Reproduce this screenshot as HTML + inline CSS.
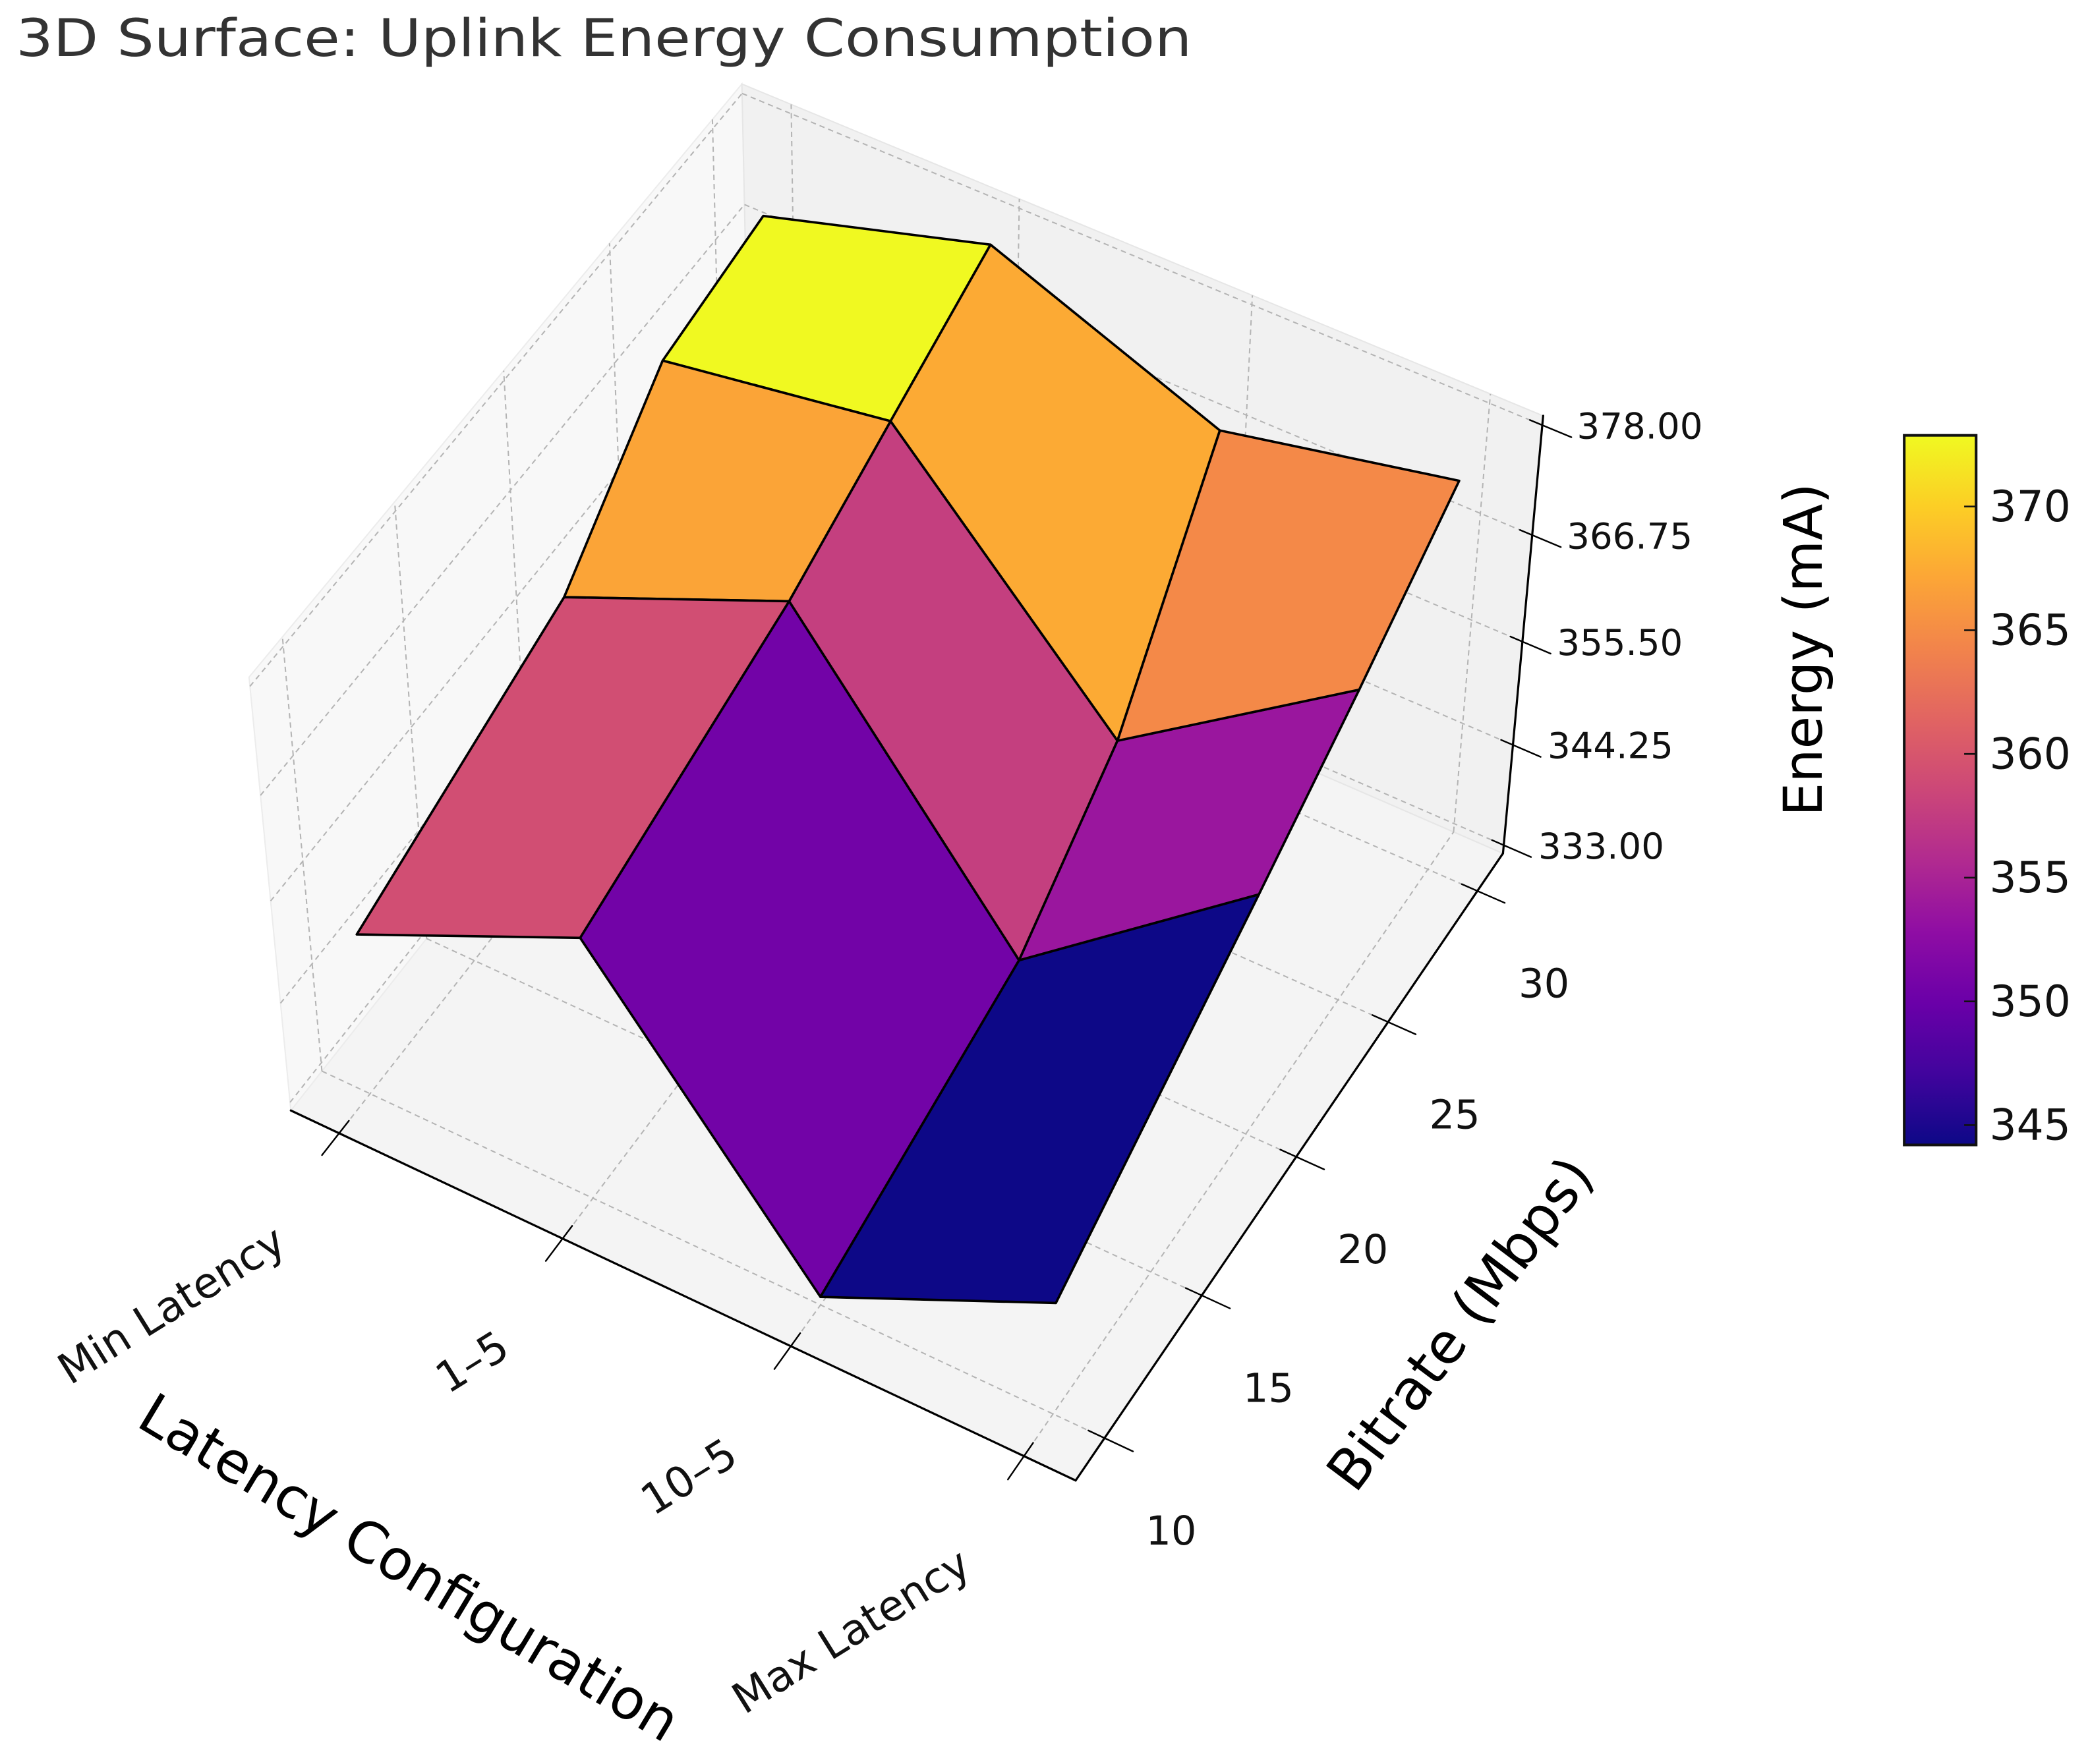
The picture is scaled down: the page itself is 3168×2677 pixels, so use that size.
<!DOCTYPE html>
<html><head><meta charset="utf-8"><title>3D Surface: Uplink Energy Consumption</title>
<style>html,body{margin:0;padding:0;background:#fff;}svg{display:block;}</style>
</head><body>
<svg id="chart" xmlns="http://www.w3.org/2000/svg" width="3168" height="2677" viewBox="0 0 1568 1325" font-family="'DejaVu Sans','Liberation Sans',sans-serif">
<rect width="1568" height="1325" fill="#fff"/>
<text x="12" y="42" font-size="39" fill="#333" textLength="883" lengthAdjust="spacingAndGlyphs">3D Surface: Uplink Energy Consumption</text>
<g id="panes"></g><g id="grid"></g><g id="axes"></g><g id="surface"></g><g id="labels"></g><g id="colorbar"></g>
</svg>
<script>
// ---- data ----
const latencyLabels = ["Min Latency", "1–5", "10–5", "Max Latency"];
const bitrates = [10, 20, 25, 30];
const bitrateTicks = [10, 15, 20, 25, 30];
const energyAt10 = [350.0, 361.1, 333.0, 344.9];
const energyAt20 = [357.8, 367.9, 340.1, 358.8];
const energyAt25 = [369.2, 373.0, 349.8, 366.1];
const energyAt30 = [371.3, 378.0, 369.0, 374.0];
const energy = [energyAt10, energyAt20, energyAt25, energyAt30];

const NS = "http://www.w3.org/2000/svg";
function mk(tag, attrs, parent) {
  const e = document.createElementNS(NS, tag);
  for (const k in attrs) e.setAttribute(k, attrs[k]);
  parent.appendChild(e);
  return e;
}
// ---- camera calibration (layout: normalized box [-1,1]^3 -> screen) ----
const calib = [
  [-1,-1,-1,219,835],[1,-1,-1,809,1113],[1,1,-1,1128,641],[1,1,1,1159,313],
  [-1,1,1,557,63],[-1,-1,1,187,508],
  [-0.8726,-1,-1,254.5,851],[-0.2909,-1,-1,423,930.5],[0.2909,-1,-1,592.5,1011],[0.8726,-1,-1,767,1093],
  [1,-0.8726,-1,830.8,1078],[1,-0.4363,-1,901.8,975.6],[1,0,-1,974.5,868.6],[1,0.4363,-1,1042,768],[1,0.8726,-1,1110,668]
];
const Arows = [], brhs = [];
calib.forEach(c => {
  const [X,Y,Z,u,v] = c; const U=(u-700)/500, V=(v-600)/500;
  Arows.push([X,Y,Z,1,0,0,0,0,-U*X,-U*Y,-U*Z]); brhs.push(U);
  Arows.push([0,0,0,0,X,Y,Z,1,-V*X,-V*Y,-V*Z]); brhs.push(V);
});
const N = 11;
const M = [], r = [];
for (let i=0;i<N;i++){ M.push(new Array(N).fill(0)); r.push(0); }
for (let k=0;k<Arows.length;k++){ for(let i=0;i<N;i++){ r[i]+=Arows[k][i]*brhs[k]; for(let j=0;j<N;j++) M[i][j]+=Arows[k][i]*Arows[k][j]; } }
for (let i=0;i<N;i++){
  let p=i; for(let k=i+1;k<N;k++) if(Math.abs(M[k][i])>Math.abs(M[p][i])) p=k;
  [M[i],M[p]]=[M[p],M[i]]; [r[i],r[p]]=[r[p],r[i]];
  for(let k=i+1;k<N;k++){ const f=M[k][i]/M[i][i]; for(let j=i;j<N;j++) M[k][j]-=f*M[i][j]; r[k]-=f*r[i]; }
}
const P = new Array(N).fill(0);
for (let i=N-1;i>=0;i--){ let s=r[i]; for(let j=i+1;j<N;j++) s-=M[i][j]*P[j]; P[i]=s/M[i][i]; }
function projN(X,Y,Z){
  const d=P[8]*X+P[9]*Y+P[10]*Z+1;
  return [ (P[0]*X+P[1]*Y+P[2]*Z+P[3])/d*500+700, (P[4]*X+P[5]*Y+P[6]*Z+P[7])/d*500+600, d ];
}
// ---- axis limits from data ----
function lims(lo, hi, marg){ const m=(hi-lo)*marg; const a=lo-m, b=hi+m; const pad=(b-a)/48; return {lo:a, hi:b, blo:a-pad, bhi:b+pad}; }
const allE = energy.flat();
const XL = lims(0, latencyLabels.length-1, 0.05);
const YL = lims(Math.min(...bitrates), Math.max(...bitrates), 0.05);
const ZL = lims(Math.min(...allE), Math.max(...allE), 0);
const nx = x => (x-XL.blo)/(XL.bhi-XL.blo)*2-1;
const ny = y => (y-YL.blo)/(YL.bhi-YL.blo)*2-1;
const nz = z => (z-ZL.blo)/(ZL.bhi-ZL.blo)*2-1;
function proj(x,y,z){ return projN(nx(x),ny(y),nz(z)); }
const zTicks = []; for(let k=0;k<5;k++) zTicks.push(ZL.lo+(ZL.hi-ZL.lo)*k/4);

// ---- plasma colormap ----
const plasma = ["#0d0887","#41049d","#6a00a8","#8f0da4","#b12a90","#cc4778","#e16462","#f2844b","#fca636","#fcce25","#f0f921"];
function cmap(t){
  t=Math.max(0,Math.min(1,t)); const f=t*10, i=Math.min(9,Math.floor(f)), w=f-i;
  const a=plasma[i], b=plasma[i+1];
  const c=[1,3,5].map(k=>Math.round(parseInt(a.substr(k,2),16)*(1-w)+parseInt(b.substr(k,2),16)*w));
  return "rgb("+c.join(",")+")";
}
const pts = arr => arr.map(p=>p[0].toFixed(2)+","+p[1].toFixed(2)).join(" ");

// ---- panes ----
const gP = document.getElementById("panes");
const floorPane = mk("polygon",{points:pts([projN(-1,-1,-1),projN(1,-1,-1),projN(1,1,-1),projN(-1,1,-1)]),fill:"#f4f4f4",stroke:"#ececec"},gP);


const leftPane = mk("polygon",{points:pts([projN(-1,-1,-1),projN(-1,1,-1),projN(-1,1,1),projN(-1,-1,1)]),fill:"#f8f8f8",stroke:"#ececec"},gP);


const backPane = mk("polygon",{points:pts([projN(-1,1,-1),projN(1,1,-1),projN(1,1,1),projN(-1,1,1)]),fill:"#f1f1f1",stroke:"#e6e6e6"},gP);



// ---- gridlines ----
const gG = document.getElementById("grid");
function gline(a,b,name){
  const l = mk("line",{x1:a[0],y1:a[1],x2:b[0],y2:b[1],stroke:"#b4b4b4","stroke-width":1,"stroke-dasharray":"4,3"},gG);
  
  
}
latencyLabels.forEach((_,i)=>{ const X=nx(i);
  gline(projN(X,-1,-1),projN(X,1,-1),"gridline-latency-floor");
  gline(projN(X,1,-1),projN(X,1,1),"gridline-latency-back"); });
bitrateTicks.forEach(b=>{ const Y=ny(b);
  gline(projN(-1,Y,-1),projN(1,Y,-1),"gridline-bitrate-floor");
  gline(projN(-1,Y,-1),projN(-1,Y,1),"gridline-bitrate-left"); });
zTicks.forEach(z=>{ const Z=nz(z);
  gline(projN(-1,-1,Z),projN(-1,1,Z),"gridline-energy-left");
  gline(projN(-1,1,Z),projN(1,1,Z),"gridline-energy-back"); });

// ---- axes lines & ticks ----
const gA = document.getElementById("axes");
function aline(a,b,name,w){
  const l = mk("line",{x1:a[0],y1:a[1],x2:b[0],y2:b[1],stroke:"#000","stroke-width":w||1.6,"stroke-linecap":"round"},gA);
  
  
}
aline(projN(-1,-1,-1),projN(1,-1,-1),"x-axis-line");
aline(projN(1,-1,-1),projN(1,1,-1),"y-axis-line");
aline(projN(1,1,-1),projN(1,1,1),"z-axis-line");
latencyLabels.forEach((_,i)=>aline(projN(nx(i),-0.96,-1),projN(nx(i),-1.07,-1),"x-tick",1.2));
bitrateTicks.forEach(b=>aline(projN(0.96,ny(b),-1),projN(1.07,ny(b),-1),"y-tick",1.2));
zTicks.forEach(z=>aline(projN(0.97,1,nz(z)),projN(1.07,1,nz(z)),"z-tick",1.2));

// ---- tick labels & titles ----
const gL = document.getElementById("labels");
latencyLabels.forEach((lab,i)=>{
  const p = proj(i, YL.blo, ZL.blo); const ax=p[0]-38, ay=p[1]+87;
  const t = mk("text",{x:ax,y:ay,"font-size":32,fill:"#111","text-anchor":"end",transform:`rotate(-32 ${ax} ${ay})`},gL);
  t.textContent = lab;
  
  
});
bitrateTicks.forEach(b=>{
  const p = proj(XL.bhi, b, ZL.blo);
  const t = mk("text",{x:p[0]+50,y:p[1]+80,"font-size":30,fill:"#111","text-anchor":"middle"},gL);
  t.textContent = b;
  
  
});
zTicks.forEach(z=>{
  const p = proj(XL.bhi, YL.bhi, z);
  const t = mk("text",{x:p[0]+26,y:p[1]+10,"font-size":27,fill:"#111","text-anchor":"start"},gL);
  t.textContent = z.toFixed(2);
  
  
});
const xt = mk("text",{x:300,y:1190,"font-size":42,fill:"#000","text-anchor":"middle",transform:"rotate(31 300 1190)"},gL);
xt.textContent = "Latency Configuration";


const yt = mk("text",{x:1108,y:1003,"font-size":42,fill:"#000","text-anchor":"middle",transform:"rotate(-53 1108 1003)"},gL);
yt.textContent = "Bitrate (Mbps)";


const zt = mk("text",{x:1368,y:488,"font-size":40,fill:"#000","text-anchor":"middle",transform:"rotate(-90 1368 488)"},gL);
zt.textContent = "Energy (mA)";



// ---- surface ----
const gS = document.getElementById("surface");
const quads = [];
for (let j=0;j<bitrates.length-1;j++) for (let i=0;i<latencyLabels.length-1;i++){
  const c = [[i,j],[i+1,j],[i+1,j+1],[i,j+1]];
  const ps = c.map(([a,b])=>proj(a,bitrates[b],energy[b][a]));
  const avg = c.reduce((s,[a,b])=>s+energy[b][a],0)/4;
  const cen = proj(i+0.5,(bitrates[j]+bitrates[j+1])/2,avg);
  quads.push({ps,avg,depth:cen[2],i,j});
}
const vmin = Math.min(...quads.map(q=>q.avg)), vmax = Math.max(...quads.map(q=>q.avg));
const farSign = projN(-1,1,1)[2] > projN(1,-1,-1)[2] ? -1 : 1;
quads.sort((a,b)=>farSign*(a.depth-b.depth));
quads.forEach(q=>{
  const pg = mk("polygon",{points:pts(q.ps),fill:cmap((q.avg-vmin)/(vmax-vmin)),stroke:"#000","stroke-width":1.8,"stroke-linejoin":"round"},gS);
  
  
});

// ---- colorbar ----
const gC = document.getElementById("colorbar");
const defs = mk("defs",{},gC);
const lg = mk("linearGradient",{id:"plasmaGrad",x1:0,y1:1,x2:0,y2:0},defs);
plasma.forEach((c,k)=>mk("stop",{offset:(k/10),"stop-color":c},lg));
const cbX=1430, cbY=327, cbW=54, cbH=533;
const bar = mk("rect",{x:cbX,y:cbY,width:cbW,height:cbH,fill:"url(#plasmaGrad)",stroke:"#111","stroke-width":2},gC);


for (let v=Math.ceil(vmin/5)*5; v<=vmax; v+=5){
  const y = cbY+cbH-(v-vmin)/(vmax-vmin)*cbH;
  const tk = mk("line",{x1:cbX+cbW-9,y1:y,x2:cbX+cbW,y2:y,stroke:"#111","stroke-width":1.3},gC);
  
  
  const t = mk("text",{x:cbX+cbW+10,y:y+11,"font-size":32,fill:"#111"},gC);
  t.textContent = v;
  
  
}
</script>
</body></html>
